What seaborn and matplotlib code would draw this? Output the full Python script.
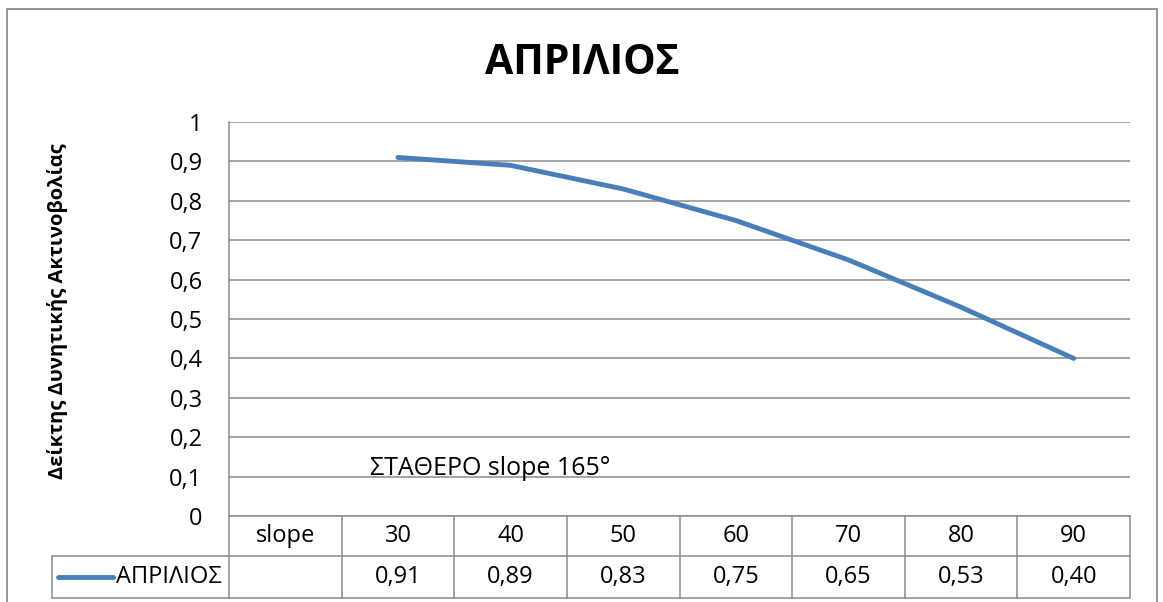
import numpy as np
import pandas as pd
import matplotlib
matplotlib.use("Agg")
import matplotlib.pyplot as plt
import seaborn as sns
from matplotlib.lines import Line2D
from matplotlib.patches import Rectangle
from matplotlib.transforms import blended_transform_factory

# Chart data
categories = ["slope", "30", "40", "50", "60", "70", "80", "90"]
april = [np.nan, 0.91, 0.89, 0.83, 0.75, 0.65, 0.53, 0.40]
series_name = "ΑΠΡΙΛΙΟΣ"
title = "ΑΠΡΙΛΙΟΣ"
y_label = "Δείκτης Δυνητικής Ακτινοβολίας"
note = "ΣΤΑΘΕΡΟ slope 165°"
y_ticks = [0, 0.1, 0.2, 0.3, 0.4, 0.5, 0.6, 0.7, 0.8, 0.9, 1.0]
y_tick_labels = ["0", "0,1", "0,2", "0,3", "0,4", "0,5", "0,6", "0,7", "0,8", "0,9", "1"]

LINE = "#4A7EBB"
GRID = "#8C8C8C"
FONT = ["Open Sans", "DejaVu Sans"]
FS = 17

sns.set_theme(style="white")
plt.rcParams["font.family"] = FONT
plt.rcParams["text.color"] = "black"

W, H = 1163, 602
fig = plt.figure(figsize=(W / 100, H / 100), dpi=100)
fig.patch.set_facecolor("white")

# plot area
left, right, top, bottom = 229, 1130, 122, 516
ax = fig.add_axes([left / W, 1 - bottom / H, (right - left) / W, (bottom - top) / H])

df = pd.DataFrame({"pos": np.arange(len(categories)), "value": april}).dropna()
sns.lineplot(data=df, x="pos", y="value", ax=ax, color=LINE, linewidth=3.5,
             estimator=None, sort=False, solid_capstyle="round", zorder=3)

ax.set_xlim(-0.5, len(categories) - 0.5)
ax.set_ylim(0, 1)
ax.set_yticks(y_ticks)
ax.set_yticklabels(y_tick_labels, fontsize=FS, color="black")
ax.set_xticks([])
ax.set_xlabel("")
ax.set_ylabel("")
ax.tick_params(axis="y", length=0, pad=19)
ax.yaxis.grid(True, color=GRID, linewidth=1.1)
ax.set_axisbelow(True)
for side in ["top", "right"]:
    ax.spines[side].set_visible(False)
for side in ["left", "bottom"]:
    ax.spines[side].set_color(GRID)
    ax.spines[side].set_linewidth(1.1)

# data table under the plot
ax_h = bottom - top
row1 = -40 / ax_h
row2 = -82 / ax_h
trans = blended_transform_factory(ax.transData, ax.transAxes)
n = len(categories)
for k in range(n + 1):
    ax.add_line(Line2D([k - 0.5, k - 0.5], [0, row2], transform=trans, color=GRID,
                       linewidth=1.1, clip_on=False))
legend_left = (52 - left) / (right - left)
for yy in (row1, row2):
    ax.add_line(Line2D([legend_left, 1], [yy, yy], transform=ax.transAxes, color=GRID,
                       linewidth=1.1, clip_on=False))
ax.add_line(Line2D([legend_left, legend_left], [row1, row2], transform=ax.transAxes,
                   color=GRID, linewidth=1.1, clip_on=False))

for k, (cat, val) in enumerate(zip(categories, april)):
    ax.text(k, row1 / 2, cat, transform=trans, ha="center", va="center",
            fontsize=FS, color="black", clip_on=False)
    if not np.isnan(val):
        ax.text(k, (row1 + row2) / 2, f"{val:.2f}".replace(".", ","), transform=trans,
                ha="center", va="center", fontsize=FS, color="black", clip_on=False)

# legend key inside the table
ymid = (row1 + row2) / 2
ax.add_line(Line2D([(58 - left) / (right - left), (113 - left) / (right - left)], [ymid, ymid],
                   transform=ax.transAxes, color=LINE, linewidth=3.5,
                   solid_capstyle="round", clip_on=False))
ax.text((116 - left) / (right - left), ymid, series_name, transform=ax.transAxes,
        ha="left", va="center", fontsize=FS, color="black", clip_on=False)

# titles and annotation
fig.text(582.5 / W, 1 - 74 / H, title, ha="center", va="baseline",
         fontsize=29.5, fontweight="bold", color="black")
fig.text(58 / W, 1 - 311 / H, y_label, ha="center", va="center", rotation=90,
         fontsize=14.5, fontweight="bold", color="black")
fig.text(370 / W, 1 - 475 / H, note, ha="left", va="baseline", fontsize=18,
         color="black")

# chart frame
fig.patches.append(Rectangle((7 / W, -0.05), (1157 - 7) / W, 1.05 - 9 / H,
                             transform=fig.transFigure, fill=False,
                             edgecolor="#8C8C8C", linewidth=1.3))

fig.savefig("out.png", dpi=100, facecolor="white")
